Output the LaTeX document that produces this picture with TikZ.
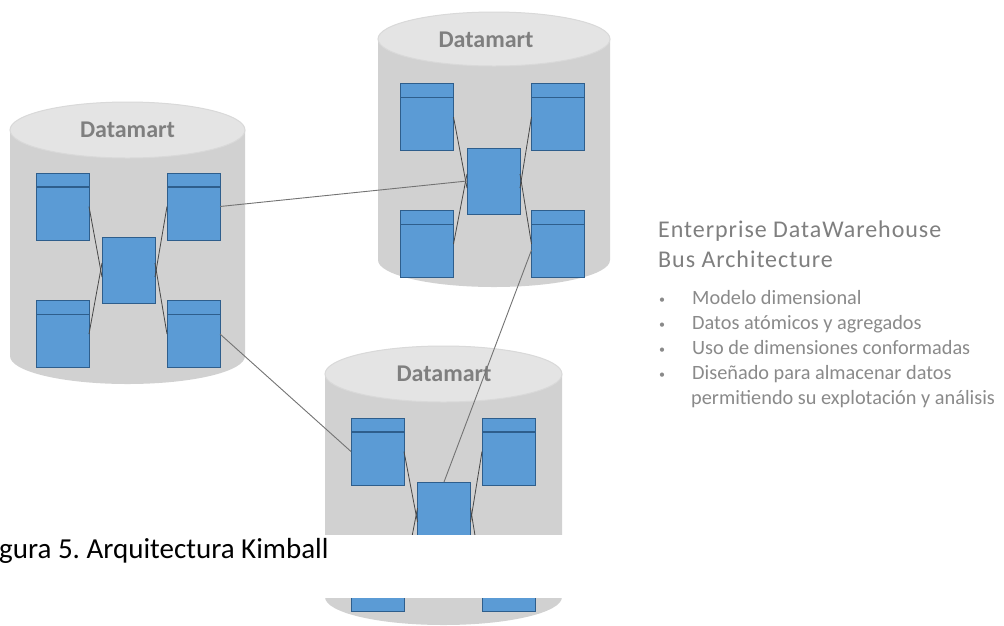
\documentclass[tikz,border=0pt]{standalone}
\usepackage{fontspec}
\setmainfont{Carlito}
\newfontfamily\headfont[LetterSpace=4]{Carlito}
\definecolor{cylbody}{HTML}{D1D1D1}
\definecolor{cyltop}{HTML}{E4E4E4}
\definecolor{cylrim}{HTML}{D9D9D9}
\definecolor{tblfill}{HTML}{5B9BD5}
\definecolor{tbledge}{HTML}{2E5E8C}
\definecolor{txtgray}{HTML}{7F7F7F}
\definecolor{bultxt}{HTML}{8A8A8A}
\tikzset{
  dimtbl/.style={draw=tbledge, fill=tblfill, line width=1pt, minimum width=53pt, minimum height=67pt, inner sep=0pt, outer sep=0pt,
    path picture={\draw[tbledge,line width=1.3pt] ([yshift=-14pt]path picture bounding box.north west) -- ([yshift=-14pt]path picture bounding box.north east);}},
  facttbl/.style={draw=tbledge, fill=tblfill, line width=1pt, minimum width=53pt, minimum height=66pt, inner sep=0pt, outer sep=0pt},
  inlink/.style={draw=black!72, line width=0.8pt},
  buslink/.style={draw=black!55, line width=0.9pt},
  dmlabel/.style={text=txtgray, inner sep=0pt, font=\fontsize{24}{28}\selectfont\bfseries},
  headtxt/.style={anchor=base west, inner sep=0pt, text=txtgray, font=\headfont\fontsize{24}{28}\selectfont},
  bultext/.style={anchor=base west, inner sep=0pt, text=bultxt, font=\fontsize{20.3}{24}\selectfont},
  bulmark/.style={anchor=base west, inner sep=0pt, text=bultxt, font=\fontsize{12}{14}\selectfont},
}
\newcommand\cylshape[5]{% cx rx ytop ybot ry
  \fill[cylbody] ({#1-#2},#3) -- ({#1-#2},#4) arc[start angle=180,end angle=0,x radius=#2,y radius=#5] -- ({#1+#2},#3) -- cycle;
  \filldraw[fill=cyltop,draw=cylrim,line width=1pt] (#1,#3) ellipse[x radius=#2,y radius=#5];
}
\frenchspacing
\begin{document}
\begin{tikzpicture}[x=1pt,y=-1pt]
\useasboundingbox (0,0) rectangle (1004,625);
\fill[white] (0,0) rectangle (1004,625);

% cylinders
\cylshape{127.5}{117.5}{130}{356}{28}
\cylshape{494}{116}{39}{260}{27}
\cylshape{443.5}{118.5}{374}{597}{28}

\node[dmlabel] (L-lbl) at (127.5,130) {Datamart};
\node[dmlabel] (T-lbl) at (486,40) {Datamart};
\node[dmlabel] (B-lbl) at (444,374) {Datamart};

% left datamart tables
\node[dimtbl] (L-tl) at (62.5,206.5) {};
\node[dimtbl] (L-tr) at (193.5,206.5) {};
\node[facttbl] (L-c) at (128.5,270) {};
\node[dimtbl] (L-bl) at (62.5,334) {};
\node[dimtbl] (L-br) at (193.5,334) {};

% top datamart tables
\node[dimtbl] (T-tl) at (427,117) {};
\node[dimtbl] (T-tr) at (558,117) {};
\node[facttbl] (T-c) at (493.5,181) {};
\node[dimtbl] (T-bl) at (427,244) {};
\node[dimtbl] (T-br) at (558,244) {};

% bottom datamart tables
\node[dimtbl] (B-tl) at (377.5,451.5) {};
\node[dimtbl] (B-tr) at (508.5,451.5) {};
\node[facttbl] (B-c) at (444,515) {};
\node[dimtbl] (B-bl) at (377.5,578) {};
\node[dimtbl] (B-br) at (508.5,578) {};

% inner links
\foreach \p in {L,T,B}{
  \draw[inlink] (\p-tl.east) -- ([yshift=-7pt]\p-c.west);
  \draw[inlink] (\p-bl.east) -- ([yshift=7pt]\p-c.west);
  \draw[inlink] (\p-tr.west) -- ([yshift=-7pt]\p-c.east);
  \draw[inlink] (\p-br.west) -- ([yshift=7pt]\p-c.east);
}

% bus links
\draw[buslink] (L-tr.east) -- (T-c.west);
\draw[buslink] (L-br.east) -- (B-tl.west);
\draw[buslink] ([yshift=-6pt]T-br.west) -- (B-c.north);

% caption band
\fill[white] (0,535) rectangle (1004,598);
\node[anchor=base west, inner sep=0pt, font=\fontsize{29}{33}\selectfont] (cap) at (-1,558) {gura 5. Arquitectura Kimball};

% right text
\node[headtxt] (h1) at (658,237) {Enterprise DataWarehouse};
\node[headtxt] (h2) at (658,267) {Bus Architecture};

\node[bulmark] (m1) at (659,303) {•};
\node[bulmark] (m2) at (659,328) {•};
\node[bulmark] (m3) at (659,353) {•};
\node[bulmark] (m4) at (659,378) {•};
\node[bultext] (t1) at (692,304) {Modelo dimensional};
\node[bultext] (t2) at (692,329) {Datos atómicos y agregados};
\node[bultext] (t3) at (692,354) {Uso de dimensiones conformadas};
\node[bultext] (t4) at (692,379) {Diseñado para almacenar datos};
\node[bultext] (t5) at (691,404) {permitiendo su explotación y análisis};
\end{tikzpicture}
\end{document}
